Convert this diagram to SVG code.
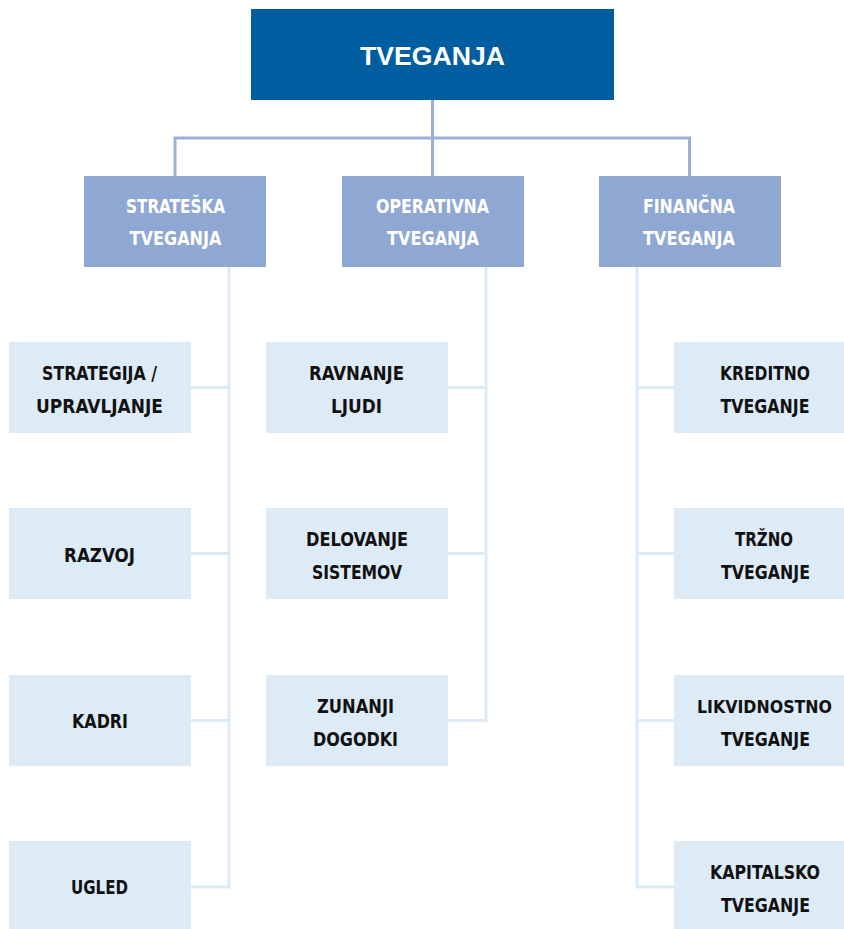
<svg xmlns="http://www.w3.org/2000/svg" width="844" height="929" viewBox="0 0 844 929">
<style>
.top{fill:#005da0}
.l2{fill:#8fa7d3}
.l3{fill:#ddebf7}
.t{font-family:"DejaVu Sans Condensed","Liberation Sans Narrow","Arial Narrow",sans-serif;font-weight:bold;font-size:20px;text-anchor:middle}
.tw{fill:#ffffff;font-size:19.5px}
.tb{fill:#111111}
.main{font-family:"Liberation Sans","Lato",sans-serif;font-weight:bold;font-size:25px;fill:#ffffff;text-anchor:middle}
.c1{fill:none;stroke:#9ab0d6;stroke-width:3}
.c2{fill:none;stroke:#ddeaf6;stroke-width:3}
</style>
<rect width="844" height="929" fill="#ffffff"/>
<g id="connectors">
<path class="c1" d="M432.5 100V176M175 176V138H689.5V176"/>
<path class="c2" d="M229 267V887H191M191 387.5H229M191 553.5H229M191 720.5H229"/>
<path class="c2" d="M486 267V720.5H448M448 387.5H486M448 553.5H486"/>
<path class="c2" d="M637 267V887H674M674 387.5H637M674 553.5H637M674 720.5H637"/>
</g>
<g id="tveganja"><rect class="top" x="251" y="9" width="363" height="91"/><text class="main" x="432.5" y="65" textLength="145" lengthAdjust="spacingAndGlyphs">TVEGANJA</text></g>
<g id="strateska"><rect class="l2" x="84" y="176" width="182" height="91"/><text class="t tw" x="175.5" y="213" textLength="99" lengthAdjust="spacingAndGlyphs">STRATEŠKA</text><text class="t tw" x="175.5" y="245" textLength="92" lengthAdjust="spacingAndGlyphs">TVEGANJA</text></g>
<g id="operativna"><rect class="l2" x="342" y="176" width="182" height="91"/><text class="t tw" x="432.5" y="213" textLength="113" lengthAdjust="spacingAndGlyphs">OPERATIVNA</text><text class="t tw" x="433" y="245" textLength="92" lengthAdjust="spacingAndGlyphs">TVEGANJA</text></g>
<g id="financna"><rect class="l2" x="599" y="176" width="182" height="91"/><text class="t tw" x="689" y="213" textLength="92" lengthAdjust="spacingAndGlyphs">FINANČNA</text><text class="t tw" x="689" y="245" textLength="92" lengthAdjust="spacingAndGlyphs">TVEGANJA</text></g>
<g id="strategija"><rect class="l3" x="9" y="342" width="182" height="91"/><text class="t tb" x="99.5" y="380" textLength="115" lengthAdjust="spacingAndGlyphs">STRATEGIJA /</text><text class="t tb" x="99.5" y="413" textLength="127" lengthAdjust="spacingAndGlyphs">UPRAVLJANJE</text></g>
<g id="razvoj"><rect class="l3" x="9" y="508" width="182" height="91"/><text class="t tb" x="99.5" y="562" textLength="71" lengthAdjust="spacingAndGlyphs">RAZVOJ</text></g>
<g id="kadri"><rect class="l3" x="9" y="675" width="182" height="91"/><text class="t tb" x="100" y="728" textLength="56" lengthAdjust="spacingAndGlyphs">KADRI</text></g>
<g id="ugled"><rect class="l3" x="9" y="841" width="182" height="88"/><text class="t tb" x="99.5" y="894" textLength="57" lengthAdjust="spacingAndGlyphs">UGLED</text></g>
<g id="ravnanje"><rect class="l3" x="266" y="342" width="182" height="91"/><text class="t tb" x="356.5" y="380" textLength="95" lengthAdjust="spacingAndGlyphs">RAVNANJE</text><text class="t tb" x="356.5" y="413" textLength="51" lengthAdjust="spacingAndGlyphs">LJUDI</text></g>
<g id="delovanje"><rect class="l3" x="266" y="508" width="182" height="91"/><text class="t tb" x="357" y="546" textLength="102" lengthAdjust="spacingAndGlyphs">DELOVANJE</text><text class="t tb" x="357" y="579" textLength="90" lengthAdjust="spacingAndGlyphs">SISTEMOV</text></g>
<g id="zunanji"><rect class="l3" x="266" y="675" width="182" height="91"/><text class="t tb" x="355.5" y="713" textLength="77" lengthAdjust="spacingAndGlyphs">ZUNANJI</text><text class="t tb" x="355.5" y="746" textLength="85" lengthAdjust="spacingAndGlyphs">DOGODKI</text></g>
<g id="kreditno"><rect class="l3" x="674" y="342" width="170" height="91"/><text class="t tb" x="765" y="380" textLength="90" lengthAdjust="spacingAndGlyphs">KREDITNO</text><text class="t tb" x="765" y="413" textLength="89" lengthAdjust="spacingAndGlyphs">TVEGANJE</text></g>
<g id="trzno"><rect class="l3" x="674" y="508" width="170" height="91"/><text class="t tb" x="764" y="546" textLength="58" lengthAdjust="spacingAndGlyphs">TRŽNO</text><text class="t tb" x="765.5" y="579" textLength="89" lengthAdjust="spacingAndGlyphs">TVEGANJE</text></g>
<g id="likvidnostno"><rect class="l3" x="674" y="675" width="170" height="91"/><text class="t tb" x="764.5" y="713" style="font-size:18px" textLength="135" lengthAdjust="spacingAndGlyphs">LIKVIDNOSTNO</text><text class="t tb" x="765.5" y="746" textLength="89" lengthAdjust="spacingAndGlyphs">TVEGANJE</text></g>
<g id="kapitalsko"><rect class="l3" x="674" y="841" width="170" height="88"/><text class="t tb" x="765" y="879" textLength="110" lengthAdjust="spacingAndGlyphs">KAPITALSKO</text><text class="t tb" x="765.5" y="912" textLength="89" lengthAdjust="spacingAndGlyphs">TVEGANJE</text></g>
</svg>
